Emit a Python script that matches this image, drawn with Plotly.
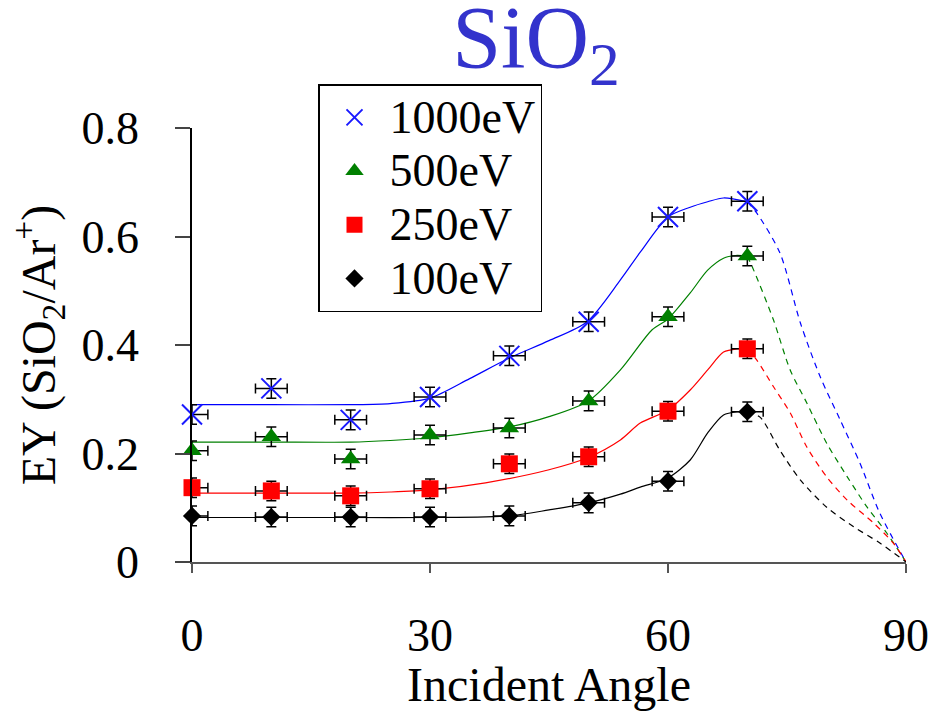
import plotly.graph_objects as go

# ---- measured data ----
angles = [0, 10, 20, 30, 40, 50, 60, 70]
ey_1000 = [0.272, 0.320, 0.262, 0.304, 0.380, 0.443, 0.636, 0.665]
ey_500 = [0.205, 0.231, 0.190, 0.234, 0.247, 0.297, 0.452, 0.564]
ey_250 = [0.137, 0.131, 0.122, 0.135, 0.181, 0.194, 0.278, 0.393]
ey_100 = [0.085, 0.083, 0.083, 0.083, 0.085, 0.109, 0.149, 0.277]
err_y = [0.018, 0.018, 0.018, 0.018, 0.018, 0.018, 0.018, 0.018]
err_x = [2, 2, 2, 2, 2, 2, 2, 2]

# fitted curves (solid part)
fit1000_x = [0, 10, 20, 25, 30, 35, 40, 45, 49.8, 54, 56.5, 60, 62.8, 65, 67, 70]
fit1000_y = [0.290, 0.290, 0.290, 0.292, 0.302, 0.338, 0.376, 0.408, 0.443, 0.52, 0.571, 0.636, 0.654, 0.664, 0.671, 0.664]
fit500_x = [0, 10, 20, 25, 30, 35, 40, 45, 50, 54, 58, 60, 62.8, 65, 67, 68.5, 70]
fit500_y = [0.221, 0.221, 0.221, 0.224, 0.229, 0.238, 0.249, 0.268, 0.297, 0.354, 0.428, 0.448, 0.496, 0.538, 0.560, 0.565, 0.564]
fit250_x = [0, 10, 20, 25, 30, 37, 45, 50, 54, 56.5, 60, 62.8, 65, 67, 68.7, 70]
fit250_y = [0.127, 0.127, 0.127, 0.129, 0.133, 0.146, 0.170, 0.193, 0.225, 0.256, 0.280, 0.317, 0.354, 0.387, 0.393, 0.393]
fit100_x = [0, 10, 20, 30, 40, 45, 50, 54, 56.5, 60, 62.8, 65, 67, 68.7, 70]
fit100_y = [0.082, 0.082, 0.082, 0.082, 0.085, 0.096, 0.109, 0.125, 0.138, 0.155, 0.188, 0.238, 0.271, 0.277, 0.277]

# extrapolated curves (dashed part)
ext1000_x = [70, 71.2, 74.1, 76.7, 79.2, 81.7, 84.2, 86.7, 90]
ext1000_y = [0.664, 0.643, 0.570, 0.440, 0.341, 0.262, 0.182, 0.090, 0.0]
ext500_x = [70, 70.8, 73.3, 75.4, 77.5, 80, 82.6, 85.1, 87.6, 90]
ext500_y = [0.564, 0.538, 0.446, 0.354, 0.293, 0.219, 0.157, 0.101, 0.053, 0.0]
ext250_x = [70, 71.2, 73.3, 75.4, 77.5, 80, 82.6, 85.9, 88.4, 90]
ext250_y = [0.393, 0.372, 0.323, 0.275, 0.212, 0.157, 0.114, 0.072, 0.035, 0.0]
ext100_x = [70, 71.6, 74.1, 76.7, 80, 83.4, 86.7, 90]
ext100_y = [0.277, 0.267, 0.206, 0.151, 0.101, 0.065, 0.035, 0.0]

labels = ["1000eV", "500eV", "250eV", "100eV"]
x_ticks = [0, 30, 60, 90]
y_ticks = [0, 0.2, 0.4, 0.6, 0.8]
y_ticktext = ["0", "0.2", "0.4", "0.6", "0.8"]

FONT = "Liberation Serif, Times New Roman, serif"

series = [
    (labels[0], ey_1000, fit1000_x, fit1000_y, ext1000_x, ext1000_y, "#0000ff",
     dict(symbol="x-thin", size=20, line=dict(width=2, color="#1a1aff"), color="#1a1aff")),
    (labels[1], ey_500, fit500_x, fit500_y, ext500_x, ext500_y, "#008000",
     dict(symbol="triangle-up", size=17, color="#008000")),
    (labels[2], ey_250, fit250_x, fit250_y, ext250_x, ext250_y, "#ff0000",
     dict(symbol="square", size=17, color="#ff0000")),
    (labels[3], ey_100, fit100_x, fit100_y, ext100_x, ext100_y, "#000000",
     dict(symbol="diamond", size=14, color="#000000")),
]

fig = go.Figure()

for name, ys, fx, fy, ex, eyv, col, mk in series:
    fig.add_trace(go.Scatter(x=fx, y=fy, mode="lines",
                             line=dict(color=col, width=1.2, shape="spline", smoothing=0.8),
                             showlegend=False, hoverinfo="skip"))
    fig.add_trace(go.Scatter(x=ex, y=eyv, mode="lines",
                             line=dict(color=col, width=1.2, shape="spline", smoothing=0.8, dash="6px,5px"),
                             showlegend=False, hoverinfo="skip"))

# error bars (clipped to the plot area)
for name, ys, fx, fy, ex, eyv, col, mk in series:
    fig.add_trace(go.Scatter(
        x=angles, y=ys, mode="markers", marker=dict(size=1, opacity=0), cliponaxis=True,
        showlegend=False, hoverinfo="skip",
        error_y=dict(type="data", array=err_y, color="black", thickness=1.5, width=5),
        error_x=dict(type="data", array=err_x, color="black", thickness=1.5, width=5),
    ))

# markers
for name, ys, fx, fy, ex, eyv, col, mk in series:
    fig.add_trace(go.Scatter(
        x=angles, y=ys, mode="markers", marker=mk, cliponaxis=False,
        name='<span style="font-size:46px">' + name + '</span>',
    ))

fig.update_layout(
    width=939, height=711,
    margin=dict(l=192, r=33, t=128, b=149, autoexpand=False),
    paper_bgcolor="white", plot_bgcolor="white",
    font=dict(family=FONT, size=48, color="black"),
    title=dict(text="SiO<sub>2</sub>", font=dict(family=FONT, size=88, color="#3333cc"),
               x=536 / 939, xref="container", xanchor="center",
               y=1 - 36 / 711, yref="container", yanchor="middle", automargin=False),
    legend=dict(x=(318 - 192) / 714, y=(562 - 84) / 434, xanchor="left", yanchor="top",
                bordercolor="black", borderwidth=1.5, bgcolor="white", itemwidth=60,
                font=dict(family=FONT, size=39, color="black")),
    showlegend=True,
)

fig.update_xaxes(range=[0, 90], tickvals=x_ticks, ticks="outside", ticklen=9, tickwidth=1.5, tickcolor="#555",
                 showline=True, linecolor="#555", linewidth=1.5, showgrid=False, zeroline=False,
                 tickfont=dict(size=46), ticklabelstandoff=23, automargin=False,
                 title=dict(text="Incident Angle", font=dict(size=48), standoff=6))
fig.update_yaxes(range=[0, 0.8], tickvals=y_ticks, ticktext=y_ticktext,
                 ticks="outside", ticklen=15, tickwidth=1.5, tickcolor="#444",
                 showline=True, linecolor="black", linewidth=1.5, showgrid=False, zeroline=False,
                 tickfont=dict(size=46), ticklabelstandoff=27, automargin=False,
                 title=dict(text="EY (SiO<sub>2</sub>/Ar<sup>+</sup>)", font=dict(size=48), standoff=11))

fig.write_html("out.html")
